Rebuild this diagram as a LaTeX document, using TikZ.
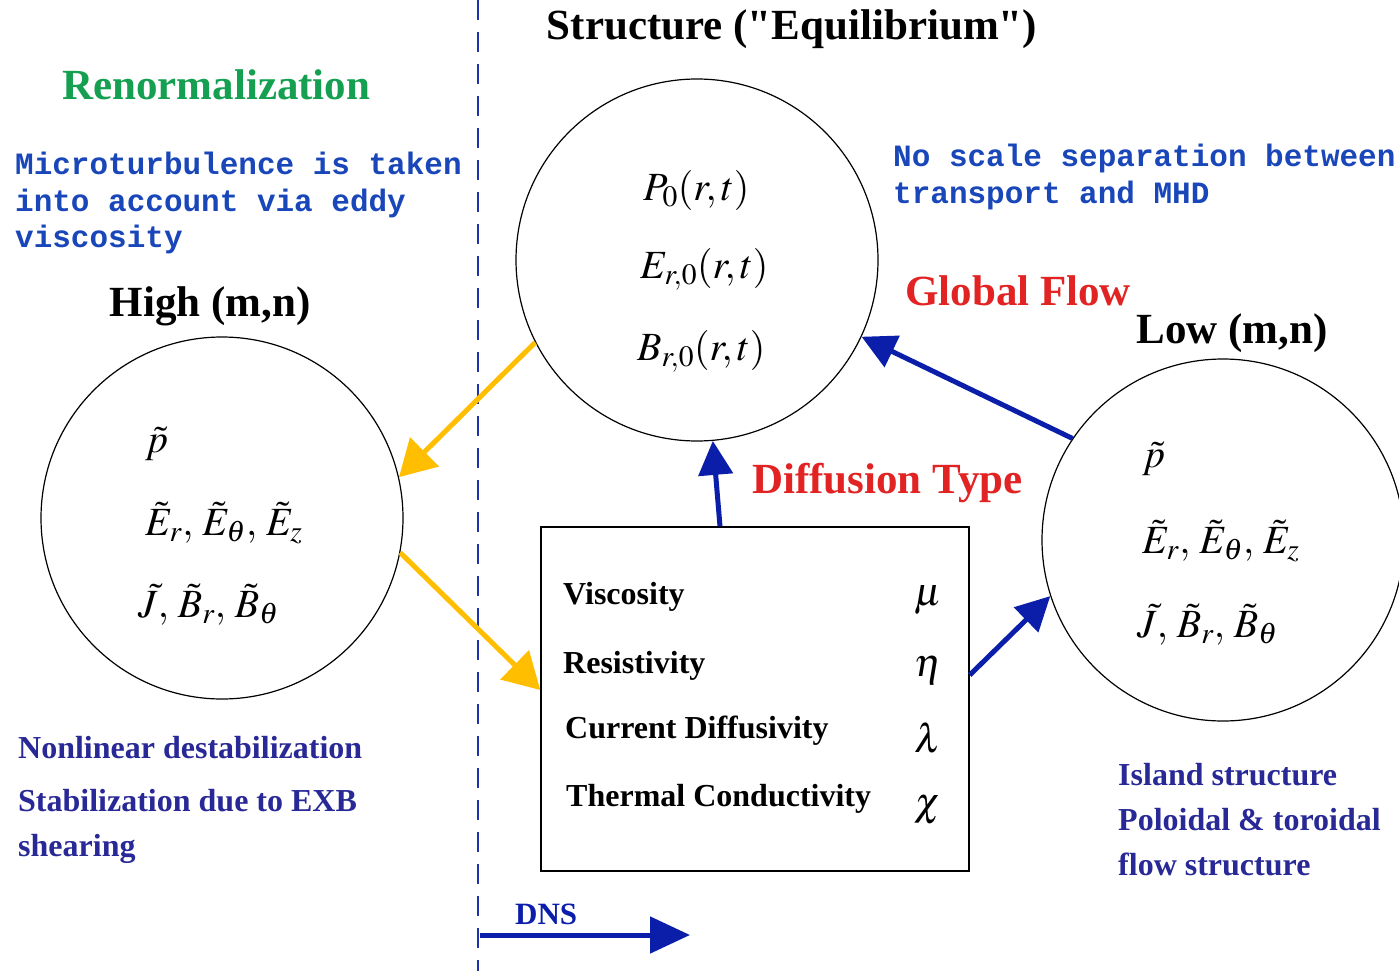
\documentclass[tikz,border=0pt]{standalone}
\usepackage{mathptmx}
\usepackage{fontspec}
\setmainfont{Liberation Serif}
\setmonofont{Liberation Mono}
\usetikzlibrary{arrows.meta}
\definecolor{arrblue}{RGB}{10,30,170}
\definecolor{monoblue}{RGB}{25,70,185}
\definecolor{noteblue}{RGB}{40,40,150}
\definecolor{dashblue}{RGB}{30,50,170}
\definecolor{yel}{RGB}{255,190,0}
\definecolor{redtxt}{RGB}{225,35,35}
\definecolor{greentxt}{RGB}{20,160,80}
\tikzset{
  head/.style={font=\fontsize{43}{50}\selectfont\bfseries, inner sep=0pt},
  mono/.style={font=\fontsize{31}{37}\selectfont\ttfamily\bfseries, text=monoblue, inner sep=0pt, anchor=base west},
  note/.style={font=\fontsize{32}{38}\selectfont\bfseries, text=noteblue, inner sep=0pt, anchor=base west},
  boxtxt/.style={font=\fontsize{32}{38}\selectfont\bfseries, inner sep=0pt, anchor=base west},
  mth/.style={font=\fontsize{40}{48}\selectfont, inner sep=0pt, anchor=base west},
  greek/.style={font=\fontsize{40}{48}\selectfont, inner sep=0pt},
  ring/.style={circle, draw, line width=1.2pt, minimum size=362pt, inner sep=0pt},
  yarrow/.style={draw=yel, line width=5pt, -{Triangle[length=36pt,width=40pt]}},
  barrow/.style={draw=arrblue, line width=5pt, -{Triangle[length=34pt,width=34pt]}},
}
\begin{document}
\begin{tikzpicture}[x=1pt,y=-1pt]
\useasboundingbox (0,0) rectangle (1399,971);
% dashed divider
\coordinate (dtop) at (478,0);
\coordinate (dbot) at (478,971);
\draw[dashblue, line width=2pt, dash pattern=on 20pt off 12pt] (dtop) -- (dbot);

% titles
\node[head, anchor=base] (ttl) at (792,40) {Structure (\textquotedbl Equilibrium\textquotedbl)};
\node[head, anchor=base west, text=greentxt] (renorm) at (62,100) {Renormalization};
\node[head, anchor=base] (high) at (210,316) {High (m,n)};
\node[head, anchor=base] (low) at (1232,343) {Low (m,n)};
\node[head, anchor=base west, text=redtxt] (gflow) at (905,305) {Global Flow};
\node[head, anchor=base west, text=redtxt] (dtype) at (752,493) {Diffusion Type};

% mono notes
\node[mono] (m1) at (15,174) {Microturbulence is taken};
\node[mono] (m2) at (15,211) {into account via eddy};
\node[mono] (m3) at (15,247) {viscosity};
\node[mono] (n1) at (893,166) {No scale separation between};
\node[mono] (n2) at (893,203) {transport and MHD};

% circles
\node[ring] (top) at (697,260) {};
\node[ring] (left) at (222,518) {};
\node[ring] (right) at (1223,540) {};

% top circle contents
\node[mth] (p0) at (643,200) {$P_0(r,t)$};
\node[mth] (e0) at (640,278) {$E_{r,0}(r,t)$};
\node[mth] (b0) at (637,360) {$B_{r,0}(r,t)$};

% left circle contents
\node[mth] (lp) at (145,452) {$\tilde{p}$};
\node[mth] (le) at (145,535) {$\tilde{E}_r,\, \tilde{E}_\theta,\, \tilde{E}_z$};
\node[mth] (lj) at (138,617) {$\tilde{J},\, \tilde{B}_r,\, \tilde{B}_\theta$};

% right circle contents
\node[mth] (rp) at (1142,467) {$\tilde{p}$};
\node[mth] (re) at (1142,553) {$\tilde{E}_r,\, \tilde{E}_\theta,\, \tilde{E}_z$};
\node[mth] (rj) at (1137,637) {$\tilde{J},\, \tilde{B}_r,\, \tilde{B}_\theta$};

% box
\node[draw, line width=1.5pt, minimum width=428pt, minimum height=344pt, inner sep=0pt] (box) at (755,699) {};
\node[boxtxt] (v) at (563,604) {Viscosity};
\node[boxtxt] (r) at (563,673) {Resistivity};
\node[boxtxt] (c) at (565,738) {Current Diffusivity};
\node[boxtxt] (t) at (566,806) {Thermal Conductivity};
\node[greek] (mu) at (928,600) {$\mu$};
\node[greek] (eta) at (928,670) {$\eta$};
\node[greek] (lam) at (928,738) {$\lambda$};
\node[greek] (chi) at (928,810) {$\chi$};

% bottom notes
\node[note] (bl1) at (18,758) {Nonlinear destabilization};
\node[note] (bl2) at (18,811) {Stabilization due to EXB};
\node[note] (bl3) at (18,856) {shearing};
\node[note] (br1) at (1118,785) {Island structure};
\node[note] (br2) at (1118,830) {Poloidal \& toroidal};
\node[note] (br3) at (1118,875) {flow structure};

% arrows
\draw[yarrow] (top.207) -- (left.13);
\draw[yarrow] (left.-11) -- ([yshift=9pt]box.west);
\draw[barrow] ([xshift=-35pt]box.north) -- (top.-85);
\draw[barrow] (right.146) -- (top.-25);
\draw[barrow] ([yshift=24pt]box.east) -- (right.198);

% DNS arrow
\coordinate (dns0) at (480,935);
\coordinate (dns1) at (690,935);
\draw[barrow, -{Triangle[length=40pt,width=36pt]}] (dns0) -- (dns1);
\node[note, font=\fontsize{31}{36}\selectfont\bfseries, text=arrblue] (dns) at (515,924) {DNS};
\end{tikzpicture}
\end{document}
